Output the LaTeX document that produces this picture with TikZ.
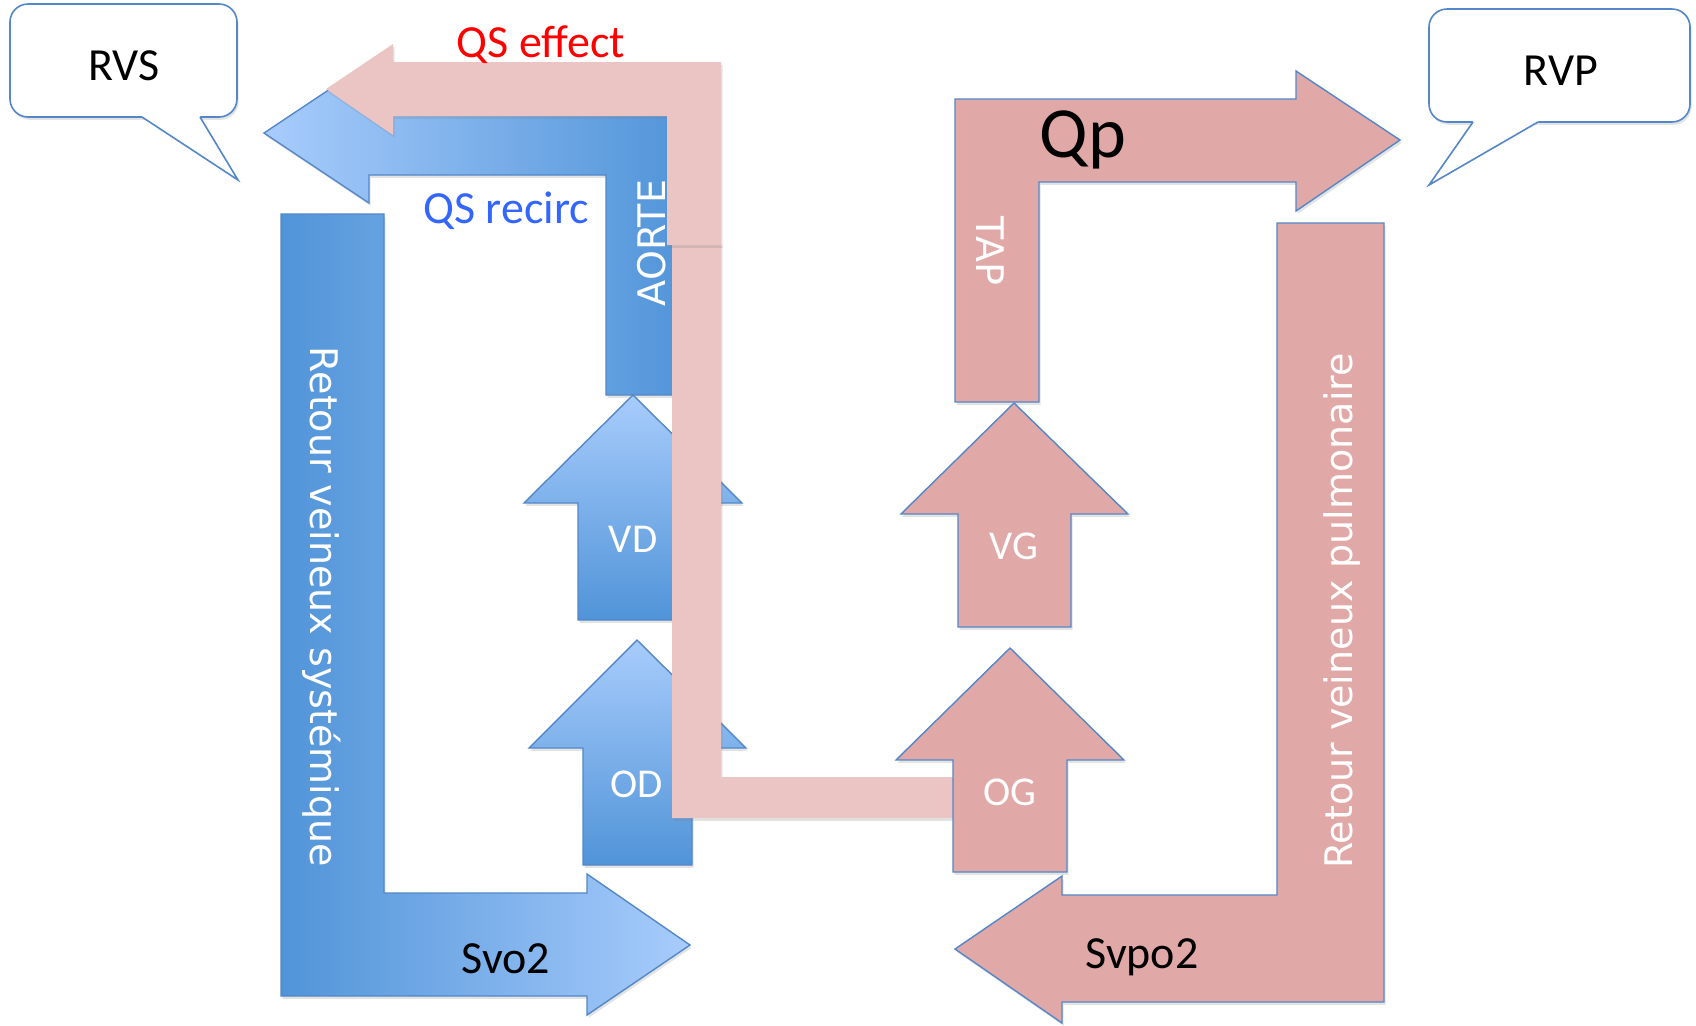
\documentclass[tikz,border=0pt]{standalone}
\usepackage{fontspec}
\setmainfont{Carlito}
\newfontfamily\dejavu{DejaVu Sans}
\usetikzlibrary{shadows}
\definecolor{pinkA}{RGB}{224,168,166}
\definecolor{pinkB}{RGB}{234,197,196}
\definecolor{bline}{RGB}{84,135,200}
\definecolor{bdark}{RGB}{80,148,216}
\definecolor{blight}{RGB}{168,204,252}
\definecolor{qsblue}{RGB}{51,102,255}
\tikzset{
 shd/.style={drop shadow={shadow xshift=0.8pt, shadow yshift=-1.4pt, opacity=0.22}},
 bluearrow/.style={draw=bline, line width=0.7pt, shd},
 pinkarrow/.style={fill=pinkA, draw=bline, line width=0.7pt, shd},
 qsarrow/.style={fill=pinkB, shd},
 callout/.style={draw=bline, line width=0.8pt, fill=white},
 pointer/.style={draw=bline, line width=0.8pt},
 lblC/.style={font=\fontsize{23pt}{27pt}\selectfont, inner sep=0pt, anchor=base},
 lblH/.style={font=\fontsize{20.5pt}{24pt}\selectfont, text=white, inner sep=0pt, anchor=base},
 lblV/.style={font=\dejavu\fontsize{19pt}{23pt}\selectfont, text=white, inner sep=0pt, anchor=base},
}
\begin{document}
\begin{tikzpicture}[x=0.5pt, y=-0.5pt]
\useasboundingbox (0,0) rectangle (1696,1025);
\fill[white] (0,0) rectangle (1696,1025);

% left blue L (Svo2)
\path[bluearrow, left color=bdark, right color=blight]
 (281,214) -- (384,214) -- (384,893) -- (587,893) -- (587,874) -- (690,945)
 -- (587,1015) -- (587,996) -- (281,996) -- cycle;
% top blue L (AORTE / QS recirc)
\path[bluearrow, left color=blight, right color=bdark]
 (606,395) -- (606,175) -- (369,175) -- (369,203) -- (264,133) -- (369,63)
 -- (369,91) -- (690,91) -- (690,395) -- cycle;
% VD and OD
\path[bluearrow, top color=blight, bottom color=bdark]
 (578,620) -- (578,503) -- (524,503) -- (633,395) -- (742,503) -- (688,503) -- (688,620) -- cycle;
\path[bluearrow, top color=blight, bottom color=bdark]
 (583,865) -- (583,748) -- (529,748) -- (637,640) -- (746,748) -- (692,748) -- (692,865) -- cycle;

\node[lblV, rotate=90] (aorte) at (665,243) {AORTE};

% QS effect (pink light)
\path[qsarrow] (672,243) -- (721,243) -- (721,777) -- (955,777) -- (955,818) -- (672,818) -- cycle;
\path[qsarrow] (667,245) -- (667,116) -- (393,116) -- (393,135) -- (326,89) -- (393,44)
 -- (393,62) -- (721,62) -- (721,245) -- cycle;

% pink arrows
\path[pinkarrow] (955,402) -- (955,99) -- (1296,99) -- (1296,71) -- (1400,140) -- (1296,211)
 -- (1296,182) -- (1039,182) -- (1039,402) -- cycle;
\path[pinkarrow] (958,627) -- (958,514) -- (901,514) -- (1014,403) -- (1128,514) -- (1071,514) -- (1071,627) -- cycle;
\path[pinkarrow] (953,872) -- (953,760) -- (896,760) -- (1010,648) -- (1124,760) -- (1067,760) -- (1067,872) -- cycle;
\path[pinkarrow] (1277,223) -- (1384,223) -- (1384,1002) -- (1062,1002) -- (1062,1023) -- (955,949)
 -- (1062,876) -- (1062,895) -- (1277,895) -- cycle;

% callouts
\path[callout, shd, rounded corners=9pt] (10,4) rectangle (237,117);
\fill[white] (142,112) -- (142,117) -- (238,180) -- (200,117) -- (200,112) -- cycle;
\draw[pointer] (142,117) -- (238,180) -- (200,117);
\path[callout, shd, rounded corners=9pt] (1429,9) rectangle (1690,122);
\fill[white] (1473,117) -- (1473,122) -- (1429,185) -- (1538,122) -- (1538,117) -- cycle;
\draw[pointer] (1473,122) -- (1429,185) -- (1538,122);

% texts
\node[lblC] (rvs) at (124,80) {RVS};
\node[lblC] (rvp) at (1561,85) {RVP};
\node[lblC, text=red] (qseff) at (541,57) {QS effect};
\node[lblC, text=qsblue] (qsrec) at (506,223) {QS recirc};
\node[lblC, font=\fontsize{36pt}{40pt}\selectfont] (qp) at (1083,157) {Qp};
\node[lblV, rotate=-90] (tap) at (976,251) {TAP};
\node[lblV, rotate=-90] (rvsys) at (310,607) {Retour veineux systémique};
\node[lblV, rotate=90] (rvpul) at (1352,611) {Retour veineux pulmonaire};
\node[lblH] (vd) at (633,552) {VD};
\node[lblH] (od) at (637,797) {OD};
\node[lblH] (vg) at (1014,559) {VG};
\node[lblH] (og) at (1010,805) {OG};
\node[lblC] (svo) at (506,973) {Svo2};
\node[lblC] (svpo) at (1142,968) {Svpo2};
\end{tikzpicture}
\end{document}
